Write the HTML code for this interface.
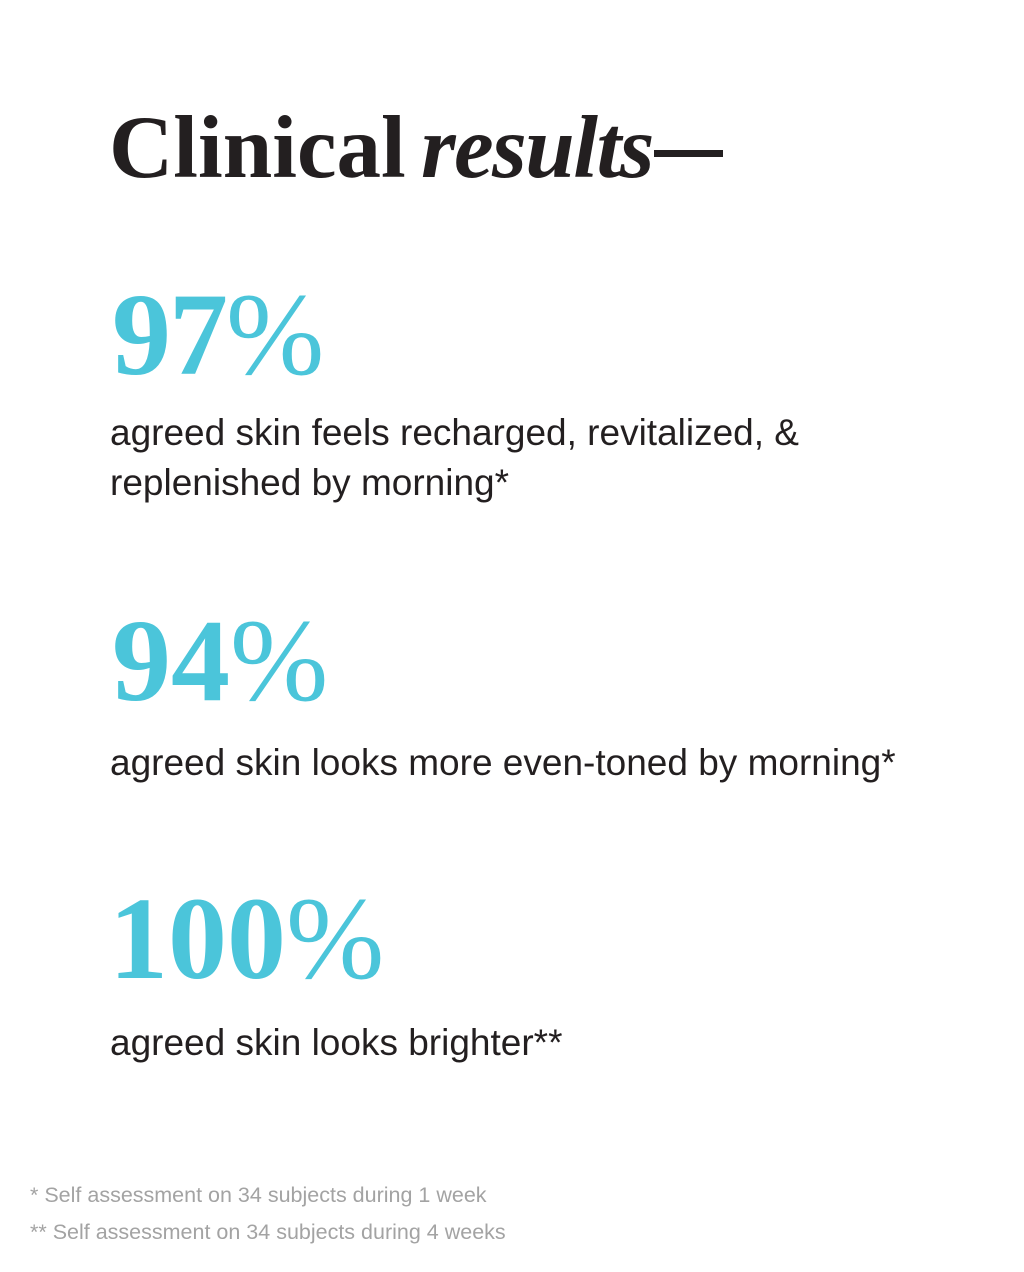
<!DOCTYPE html>
<html>
<head>
<meta charset="utf-8">
<style>
  html, body { margin:0; padding:0; }
  body { width:1024px; height:1272px; background:#ffffff; position:relative; overflow:hidden; }
  .t { position:absolute; white-space:nowrap; }
  .title { font-family:"Liberation Serif", serif; font-size:89px; line-height:89px; color:#231f20; font-weight:bold; }
  .pct { font-family:"Liberation Serif", serif; font-size:118px; line-height:118px; color:#4bc5da; }
  .pct b { font-weight:bold; }
  .pct span { font-weight:normal; }
  .body { font-family:"Liberation Sans", sans-serif; font-size:37px; line-height:50px; color:#231f20; }
  .foot { font-family:"Liberation Sans", sans-serif; font-size:21.5px; line-height:21.5px; color:#a3a3a3; }
</style>
</head>
<body>
  <div class="t title" style="left:109px; top:104px; letter-spacing:0px;">Clinical</div>
  <div class="t title" style="left:421px; top:104px; font-style:italic; letter-spacing:-1.5px;">results</div>
  <div style="position:absolute; left:654px; top:150px; width:69px; height:7px; background:#231f20;"></div>

  <div class="t pct" style="left:112px; top:276px; letter-spacing:-2px;"><b>97</b><span>%</span></div>
  <div class="t body" style="left:110px; top:408px;">agreed skin feels recharged, revitalized, &amp;</div>
  <div class="t body" style="left:110px; top:458px;">replenished by morning*</div>

  <div class="t pct" style="left:112px; top:602px; letter-spacing:0px;"><b>94</b><span>%</span></div>
  <div class="t body" style="left:110px; top:738px;">agreed skin looks more even-toned by morning*</div>

  <div class="t pct" style="left:109px; top:880px; letter-spacing:0px;"><b>100</b><span>%</span></div>
  <div class="t body" style="left:110px; top:1018px;">agreed skin looks brighter**</div>

  <div class="t foot" style="left:30px; top:1185px;">* Self assessment on 34 subjects during 1 week</div>
  <div class="t foot" style="left:30px; top:1222px;">** Self assessment on 34 subjects during 4 weeks</div>
</body>
</html>
